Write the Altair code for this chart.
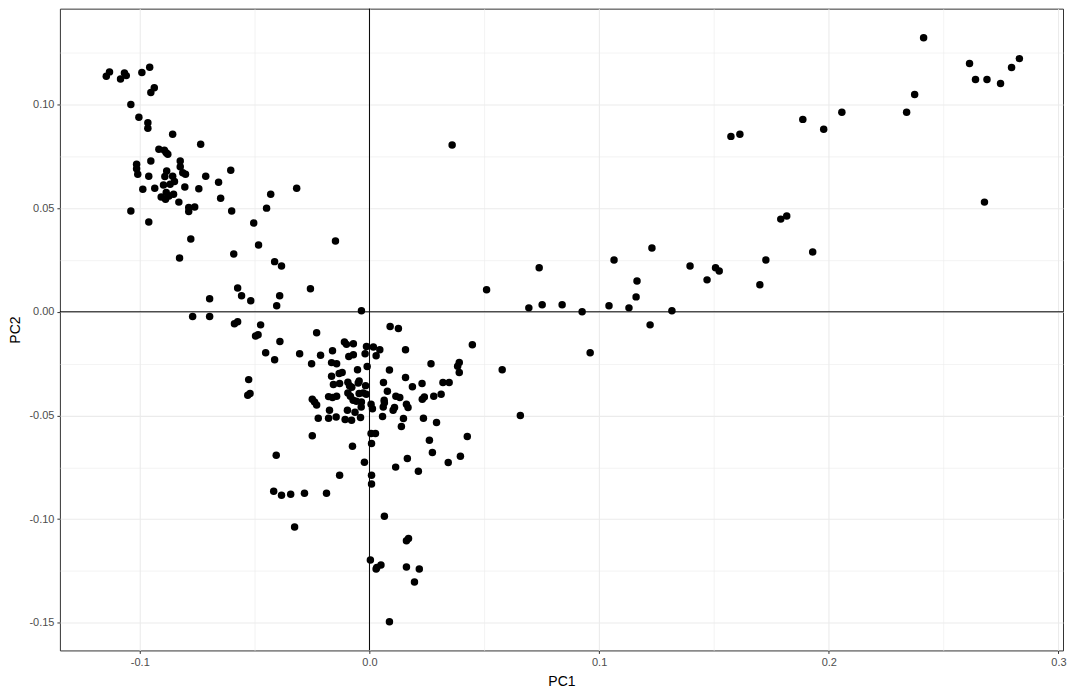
import altair as alt
import pandas as pd

# ---- data (PC scores) ----
left_pc1 = [
    -0.1146, -0.1132, -0.1084, -0.1067, -0.1059, -0.0991, -0.0957, -0.0952, -0.0937, -0.1039,
    -0.1004, -0.0965, -0.0965, -0.0857, -0.0735, -0.0917, -0.0893, -0.0885, -0.0878, -0.0952,
    -0.1014, -0.1014, -0.1009, -0.0961, -0.0883, -0.0891, -0.0857, -0.0824, -0.0824, -0.0813,
    -0.0801, -0.0713, -0.0604, -0.0657, -0.0849, -0.0868, -0.0897, -0.0804, -0.0935, -0.0987,
    -0.0743, -0.0317, -0.0430, -0.0648, -0.0885, -0.0907, -0.0888, -0.0853, -0.0873, -0.0830,
    -0.0787, -0.0787, -0.0761, -0.0600, -0.1039, -0.0448, -0.0961, -0.0504,
]
left_pc2 = [
    0.1136, 0.1157, 0.1123, 0.1152, 0.1139, 0.1154, 0.1179, 0.1058, 0.1080, 0.1000,
    0.0938, 0.0912, 0.0885, 0.0856, 0.0808, 0.0784, 0.0779, 0.0767, 0.0760, 0.0727,
    0.0712, 0.0690, 0.0663, 0.0654, 0.0679, 0.0652, 0.0654, 0.0727, 0.0700, 0.0671,
    0.0663, 0.0654, 0.0683, 0.0625, 0.0628, 0.0615, 0.0612, 0.0602, 0.0596, 0.0591,
    0.0593, 0.0596, 0.0567, 0.0548, 0.0575, 0.0554, 0.0543, 0.0567, 0.0559, 0.0529,
    0.0503, 0.0484, 0.0505, 0.0486, 0.0486, 0.0500, 0.0433, 0.0428,
]
mid_pc1 = [
    -0.0778, -0.0148, -0.0483, -0.0827, -0.0591, -0.0413, -0.0383, -0.0574, -0.0257, -0.0696,
    -0.0557, -0.0517, -0.0391, -0.0404, -0.0035, -0.0770, -0.0696, -0.0588, -0.0574, -0.0474,
    -0.0496, -0.0485, -0.0230, -0.0390,
]
mid_pc2 = [
    0.0351, 0.0341, 0.0322, 0.0260, 0.0279, 0.0242, 0.0221, 0.0115, 0.0111, 0.0063,
    0.0077, 0.0053, 0.0077, 0.0029, 0.0005, -0.0023, -0.0023, -0.0058, -0.0048, -0.0063,
    -0.0117, -0.0111, -0.0101, -0.0143,
]
centre_pc1 = [
    -0.0452, -0.0413, -0.0304, -0.0252, -0.0213, -0.0161, -0.0109, -0.0100, -0.0070, 0.0090,
    0.0126, -0.0013, 0.0017, 0.0045, -0.0019, 0.0029, 0.0157, 0.0448, -0.0090, -0.0070,
    -0.0165, -0.0143, -0.0010, 0.0268, 0.0384, 0.0391, 0.0391, 0.0087, -0.0052, -0.0132,
    -0.0119, -0.0165, -0.0526, -0.0530, -0.0520, 0.0157, 0.0229, 0.0320, 0.0347, -0.0094,
    -0.0045, -0.0049, 0.0061, -0.0157, -0.0130, -0.0087, -0.0077, -0.0017, 0.0187, 0.0078,
    -0.0045, -0.0027, -0.0014, -0.0094, -0.0083, -0.0178, -0.0161, -0.0143, 0.0115, 0.0132,
    0.0239, 0.0230, 0.0280, 0.0312, -0.0249, -0.0239, -0.0230, -0.0071, -0.0057, -0.0035,
    -0.0036, 0.0064, 0.0065, 0.0060, 0.0007, 0.0013, 0.0161, 0.0168, 0.0109, 0.0103,
    -0.0096, -0.0063, -0.0174, -0.0178, -0.0145, -0.0223, -0.0106, -0.0078, -0.0039, 0.0057,
    0.0148, 0.0139, 0.0235, 0.0292, -0.0249, 0.0007, 0.0026, 0.0009, -0.0074, 0.0261,
    0.0426, -0.0406, 0.0274, 0.0165, 0.0396, 0.0343, -0.0022, 0.0114, 0.0213, -0.0130,
    0.0009, 0.0009, -0.0417, -0.0383, -0.0343, -0.0283, -0.0187, 0.0065, -0.0326, 0.0170,
    0.0161, 0.0004, 0.0050, 0.0032, 0.0029, 0.0161, 0.0217, 0.0196, 0.0087,
]
centre_pc2 = [
    -0.0197, -0.0231, -0.0202, -0.0250, -0.0210, -0.0188, -0.0146, -0.0157, -0.0154, -0.0071,
    -0.0080, -0.0167, -0.0170, -0.0183, -0.0202, -0.0212, -0.0183, -0.0159, -0.0215, -0.0207,
    -0.0245, -0.0250, -0.0264, -0.0250, -0.0263, -0.0244, -0.0293, -0.0281, -0.0279, -0.0298,
    -0.0293, -0.0311, -0.0327, -0.0402, -0.0394, -0.0317, -0.0346, -0.0341, -0.0341, -0.0340,
    -0.0334, -0.0343, -0.0341, -0.0351, -0.0346, -0.0356, -0.0364, -0.0356, -0.0361, -0.0383,
    -0.0394, -0.0391, -0.0398, -0.0391, -0.0407, -0.0409, -0.0413, -0.0407, -0.0407, -0.0413,
    -0.0411, -0.0422, -0.0407, -0.0398, -0.0422, -0.0435, -0.0449, -0.0426, -0.0431, -0.0435,
    -0.0459, -0.0426, -0.0439, -0.0459, -0.0446, -0.0468, -0.0446, -0.0462, -0.0462, -0.0475,
    -0.0475, -0.0484, -0.0475, -0.0513, -0.0507, -0.0513, -0.0519, -0.0523, -0.0510, -0.0505,
    -0.0514, -0.0553, -0.0513, -0.0534, -0.0598, -0.0587, -0.0587, -0.0635, -0.0648, -0.0619,
    -0.0601, -0.0692, -0.0678, -0.0707, -0.0697, -0.0727, -0.0726, -0.0749, -0.0769, -0.0788,
    -0.0788, -0.0830, -0.0865, -0.0885, -0.0880, -0.0875, -0.0875, -0.0986, -0.1038, -0.1093,
    -0.1104, -0.1197, -0.1221, -0.1233, -0.1240, -0.1231, -0.1240, -0.1303, -0.1495,
]
right_pc1 = [
    0.0360, 0.0510, 0.0739, 0.0694, 0.0752, 0.0839, 0.0926, 0.0961, 0.1065, 0.1043,
    0.1130, 0.1161, 0.1165, 0.1230, 0.1222, 0.1317, 0.1396, 0.1470, 0.1507, 0.1523,
    0.0578, 0.0657, 0.2413, 0.2613, 0.2639, 0.2689, 0.2748, 0.2796, 0.2830, 0.2374,
    0.2339, 0.2057, 0.1978, 0.1887, 0.1574, 0.1613, 0.2678, 0.1791, 0.1817, 0.1930,
    0.1726, 0.1700,
]
right_pc2 = [
    0.0804, 0.0106, 0.0212, 0.0019, 0.0034, 0.0034, 0.0000, -0.0197, 0.0250, 0.0029,
    0.0019, 0.0072, 0.0149, 0.0308, -0.0063, 0.0005, 0.0221, 0.0154, 0.0212, 0.0197,
    -0.0279, -0.0500, 0.1322, 0.1197, 0.1120, 0.1120, 0.1101, 0.1178, 0.1221, 0.1048,
    0.0962, 0.0962, 0.0880, 0.0928, 0.0846, 0.0856, 0.0529, 0.0447, 0.0462, 0.0288,
    0.0250, 0.0130,
]

# axis break positions (major + minor grid) and reference lines
x_breaks = [-0.1, -0.05, 0.0, 0.05, 0.1, 0.15, 0.2, 0.25, 0.3]
y_breaks = [-0.15, -0.125, -0.1, -0.075, -0.05, -0.025, 0.0, 0.025, 0.05, 0.075, 0.1, 0.125]
x_domain = [-0.1348, 0.3020]
y_domain = [-0.1633, 0.1462]
zero_line = [0.0]

df = pd.DataFrame({
    "PC1": left_pc1 + mid_pc1 + centre_pc1 + right_pc1,
    "PC2": left_pc2 + mid_pc2 + centre_pc2 + right_pc2,
})
zero_df = pd.DataFrame({"v": zero_line})

FONT = "Liberation Sans"
major_x = "abs(datum.value*10 - round(datum.value*10)) < 0.001"
major_y = "abs(datum.value*20 - round(datum.value*20)) < 0.001"


def make_axis(test, fmt, title_pad):
    return alt.Axis(
        values=x_breaks if fmt == ".1f" else y_breaks,
        grid=True,
        gridColor="#ebebeb",
        gridWidth={"condition": {"test": test, "value": 1.1}, "value": 0.6},
        domain=False,
        tickColor="#333333",
        tickSize=3,
        tickWidth=1,
        tickOpacity={"condition": {"test": test, "value": 1}, "value": 0},
        labelExpr=f"{test} ? replace(format(datum.value, '{fmt}'), '\u2212', '-') : ''",
        labelFont=FONT,
        labelFontSize=11,
        labelColor="#4d4d4d",
        labelPadding=3,
        titleFont=FONT,
        titleFontSize=14,
        titleFontWeight="normal",
        titleColor="#000000",
        titlePadding=title_pad,
        labelOverlap=False,
    )


x_enc = alt.X("PC1:Q", title="PC1",
              scale=alt.Scale(domain=x_domain, nice=False, zero=False),
              axis=make_axis(major_x, ".1f", 7))
y_enc = alt.Y("PC2:Q", title="PC2",
              scale=alt.Scale(domain=y_domain, nice=False, zero=False),
              axis=make_axis(major_y, ".2f", 6))

points = alt.Chart(df).mark_circle(size=56, color="black", opacity=1).encode(x=x_enc, y=y_enc)

vline = alt.Chart(zero_df).mark_rule(color="black", strokeWidth=1).encode(x=alt.X("v:Q"))
hline = alt.Chart(zero_df).mark_rule(color="black", strokeWidth=1).encode(y=alt.Y("v:Q"))

chart = (
    alt.layer(points, vline, hline)
    .properties(
        width=1005,
        height=643,
        padding={"left": 52, "top": 0, "right": 4, "bottom": 40},
        autosize=alt.AutoSizeParams(type="none"),
    )
    .configure_view(stroke="#333333", strokeWidth=1)
)

chart.save("out.html", embed_options={"renderer": "svg", "actions": False})
